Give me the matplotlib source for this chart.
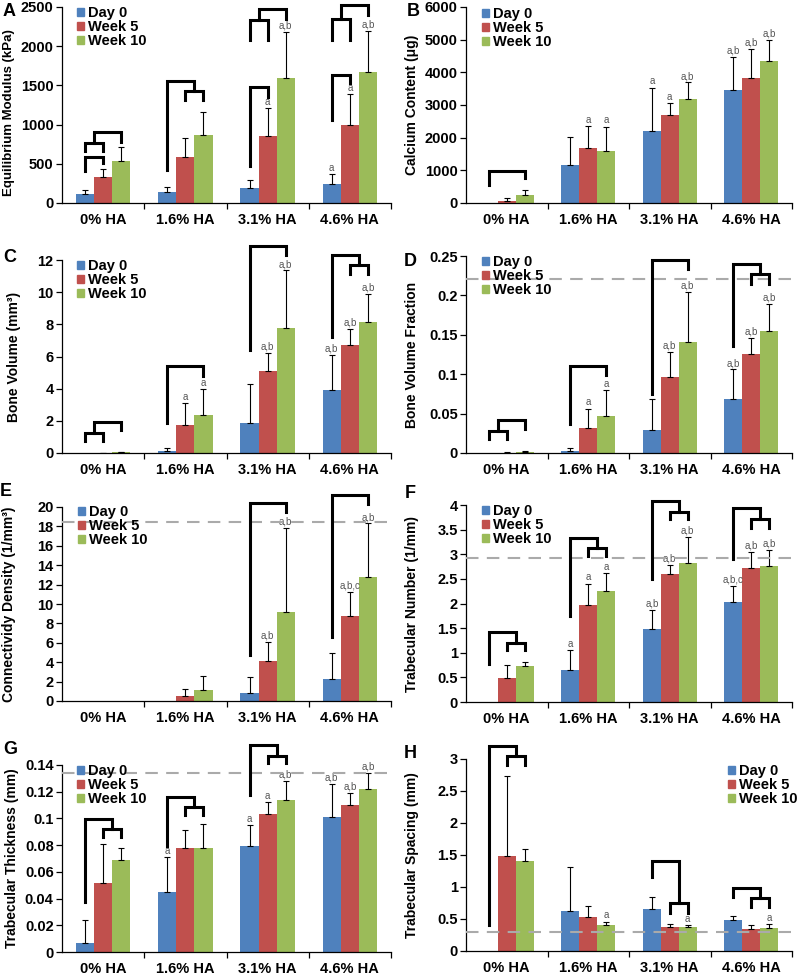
import numpy as np
import matplotlib
matplotlib.use('Agg')
import matplotlib.pyplot as plt
from matplotlib.patches import Patch

plt.rcParams['font.family'] = ['Liberation Sans', 'DejaVu Sans']

groups = ['0% HA', '1.6% HA', '3.1% HA', '4.6% HA']
series = ['Day 0', 'Week 5', 'Week 10']
colors = ['#4F81BD', '#C0504D', '#9BBB59']

# ---- data: rows = Day 0, Week 5, Week 10 ; cols = HA groups ----
modulus_mean = [[115, 135, 195, 245], [335, 590, 860, 1000], [530, 865, 1595, 1670]]
modulus_sd = [[50, 75, 95, 120], [105, 240, 350, 385], [180, 300, 585, 530]]
modulus_ann = [['', '', '', 'a'], ['', '', 'a', 'a'], ['', '', 'a,b', 'a,b']]

calcium_mean = [[0, 1170, 2200, 3460], [75, 1690, 2700, 3830], [230, 1580, 3180, 4350]]
calcium_sd = [[0, 860, 1330, 1010], [85, 660, 360, 890], [170, 760, 510, 650]]
calcium_ann = [['', '', 'a', 'a,b'], ['', 'a', 'a', 'a,b'], ['', 'a', 'a,b', 'a,b']]

bv_mean = [[0, 0.1, 1.85, 3.9], [0.02, 1.75, 5.12, 6.7], [0.04, 2.38, 7.8, 8.12]]
bv_sd = [[0, 0.2, 2.45, 2.2], [0.01, 1.35, 1.1, 1.0], [0.02, 1.57, 3.55, 1.78]]
bv_ann = [['', '', '', 'a,b'], ['', 'a', 'a,b', 'a,b'], ['', 'a', 'a,b', 'a,b']]

bvf_mean = [[0, 0.003, 0.029, 0.068], [0.0005, 0.032, 0.097, 0.126], [0.001, 0.047, 0.141, 0.155]]
bvf_sd = [[0, 0.003, 0.039, 0.038], [0.0005, 0.024, 0.031, 0.020], [0.001, 0.033, 0.063, 0.034]]
bvf_ann = [['', '', '', 'a,b'], ['', 'a', 'a,b', 'a,b'], ['', 'a', 'a,b', 'a,b']]
bvf_ref = 0.221

conn_mean = [[0, 0, 0.78, 2.3], [0, 0.5, 4.15, 8.75], [0, 1.15, 9.2, 12.8]]
conn_sd = [[0, 0, 1.72, 2.6], [0, 0.7, 1.9, 2.45], [0, 1.45, 8.6, 5.5]]
conn_ann = [['', '', '', ''], ['', '', 'a,b', 'a,b,c'], ['', '', 'a,b', 'a,b']]
conn_ref = 18.5

tbn_mean = [[0, 0.65, 1.49, 2.03], [0.48, 1.97, 2.6, 2.73], [0.73, 2.25, 2.83, 2.77]]
tbn_sd = [[0, 0.4, 0.38, 0.33], [0.28, 0.43, 0.18, 0.31], [0.09, 0.36, 0.52, 0.32]]
tbn_ann = [['', 'a', 'a,b', 'a,b,c'], ['', 'a', 'a,b', 'a,b'], ['', 'a', 'a,b', 'a,b']]
tbn_ref = 2.93

tbth_mean = [[0.007, 0.045, 0.079, 0.101], [0.052, 0.078, 0.103, 0.110], [0.069, 0.078, 0.114, 0.122]]
tbth_sd = [[0.017, 0.026, 0.016, 0.025], [0.029, 0.013, 0.009, 0.009], [0.009, 0.018, 0.014, 0.012]]
tbth_ann = [['', 'a', 'a', 'a,b'], ['', '', 'a', 'a,b'], ['', '', 'a,b', 'a,b']]
tbth_ref = 0.134

tbsp_mean = [[0, 0.62, 0.65, 0.48], [1.49, 0.53, 0.38, 0.35], [1.41, 0.41, 0.37, 0.36]]
tbsp_sd = [[0, 0.69, 0.19, 0.06], [1.24, 0.17, 0.04, 0.06], [0.19, 0.05, 0.03, 0.06]]
tbsp_ann = [['', '', '', ''], ['', '', '', ''], ['', 'a', 'a', 'a']]
tbsp_ref = 0.3

# significance brackets: (group, left slot, right slot, top, left end, right end)
# slot 0/1/2 = bar, 0.5/1.5 = between bars
modulus_br = [(0, 0, 1, 593, 403, 508), (0, 0, 1, 771, 657, 657), (0, 0.5, 2, 911, 771, 784),
              (1, 1, 2, 1432, 1314, 1314), (1, 0, 1.5, 1555, 424, 1432),
              (2, 0, 1, 1483, 466, 1356), (2, 0, 1, 2339, 2085, 2085), (2, 0.5, 2, 2479, 2339, 2352),
              (3, 0, 1, 1631, 1059, 1525), (3, 0, 1, 2352, 2085, 2085), (3, 0.5, 2, 2521, 2352, 2394)]
calcium_br = [(0, 0, 2, 970, 560, 765)]
bv_br = [(0, 0, 1, 1.25, 0.73, 0.73), (0, 0.5, 2, 1.9, 1.25, 1.45), (1, 0, 2, 5.4, 1.87, 4.77),
         (2, 0, 2, 12.86, 6.4, 12.34), (3, 1, 2, 11.72, 11.1, 11.1), (3, 0, 1.5, 12.28, 7.2, 11.72)]
bvf_br = [(0, 0, 1, 0.028, 0.0174, 0.0174), (0, 0.5, 2, 0.0415, 0.028, 0.031), (1, 0, 2, 0.110, 0.037, 0.0987),
          (2, 0, 2, 0.245, 0.0746, 0.233), (3, 1, 2, 0.2267, 0.215, 0.215), (3, 0, 1.5, 0.2394, 0.136, 0.2267)]
conn_br = [(2, 0, 2, 20.4, 4.73, 19.5), (3, 0, 2, 21.2, 6.6, 20.3)]
tbn_br = [(0, 1, 2, 1.207, 1.05, 1.05), (0, 0, 1.5, 1.424, 0.78, 1.207),
          (1, 1, 2, 3.12, 2.96, 2.96), (1, 0, 1.5, 3.34, 1.74, 3.12),
          (2, 1, 2, 3.86, 3.71, 3.71), (2, 0, 1.5, 4.09, 2.49, 3.86),
          (3, 1, 2, 3.71, 3.54, 3.54), (3, 0, 1.5, 3.93, 2.9, 3.71)]
tbth_br = [(0, 1, 2, 0.092, 0.0863, 0.0863), (0, 0, 1.5, 0.0993, 0.0375, 0.092),
           (1, 1, 2, 0.1088, 0.1025, 0.1025), (1, 0, 1.5, 0.1163, 0.079, 0.1088),
           (2, 1, 2, 0.1467, 0.1415, 0.1415), (2, 0, 1.5, 0.155, 0.1175, 0.1467)]
tbsp_br = [(0, 1, 2, 3.04, 2.9, 2.9), (0, 0, 1.5, 3.21, 0.41, 3.04),
           (2, 1, 2, 0.746, 0.6, 0.6), (2, 0, 1.5, 1.40, 1.16, 0.746),
           (3, 1, 2, 0.824, 0.69, 0.69), (3, 0, 1.5, 0.98, 0.85, 0.824)]

W = 0.22
FW, FH = 800, 976
fig = plt.figure(figsize=(FW / 100, FH / 100), dpi=100)


def px_rect(l, t, r, b):
    return [l / FW, 1 - b / FH, (r - l) / FW, (b - t) / FH]


def panel(box, letter, letter_xy, mean, sd, ann, brackets, ymax, ystep, ylabel, lab_px,
          leg_xy, ref=None, lab_y=0.5, lab_size=10):
    ax = fig.add_axes(px_rect(*box))
    x = np.arange(len(groups))
    for i in range(3):
        xs = x + (i - 1) * W
        m = np.array(mean[i], dtype=float)
        e = np.array(sd[i], dtype=float)
        ax.bar(xs, m, W, color=colors[i], zorder=2)
        has = e > 0
        ax.errorbar(xs[has], m[has], yerr=[np.zeros(has.sum()), e[has]], fmt='none',
                    ecolor='black', elinewidth=0.8, capsize=2, capthick=0.8, zorder=3)
        for g in range(len(groups)):
            if ann[i][g]:
                ax.annotate(ann[i][g], (xs[g], m[g] + e[g]), xytext=(0, 1), textcoords='offset points',
                            ha='center', va='bottom', fontsize=7, color='#555555')
    if ref is not None:
        ax.axhline(ref, color='#aaaaaa', lw=1.5, dashes=(6, 4), zorder=4)
    for g, sl, sr, top, yl, yr in brackets:
        xl = g + (sl - 1) * W
        xr = g + (sr - 1) * W
        ax.plot([xl, xl, xr, xr], [yl, top, top, yr], color='black', lw=2.2,
                solid_joinstyle='miter', clip_on=False, zorder=5)

    ax.set_xlim(-0.5, len(groups) - 0.5)
    ax.set_ylim(0, ymax)
    ticks = np.arange(0, ymax + ystep / 2, ystep)
    ax.set_yticks(ticks)
    ax.set_yticklabels(['{:g}'.format(round(v, 4)) for v in ticks])
    ax.set_xticks(x)
    ax.set_xticklabels(groups)
    ax.set_xticks(x + 0.5, minor=True)
    ax.tick_params(axis='x', which='major', length=0, pad=7, labelsize=10.5)
    ax.tick_params(axis='x', which='minor', length=4, width=0.9, direction='out')
    ax.tick_params(axis='y', length=4, width=0.9, direction='out', pad=2, labelsize=10.5)
    for lab in ax.get_xticklabels() + ax.get_yticklabels():
        lab.set_fontweight('bold')
    for s in ['top', 'right']:
        ax.spines[s].set_visible(False)
    for s in ['left', 'bottom']:
        ax.spines[s].set_linewidth(0.9)
    ax.set_ylabel(ylabel, fontsize=lab_size, fontweight='bold')
    # label anchor = right edge of the rotated text, in figure pixels
    ax.yaxis.set_label_coords((lab_px - box[0]) / (box[2] - box[0]), lab_y)

    handles = [Patch(color=c) for c in colors]
    ax.legend(handles, series, loc='upper left', frameon=False,
              bbox_to_anchor=(leg_xy[0] / FW, 1 - leg_xy[1] / FH), bbox_transform=fig.transFigure,
              prop={'weight': 'bold', 'size': 10.5}, handlelength=0.5, handleheight=0.5,
              handletextpad=0.25, labelspacing=0.0, borderpad=0, borderaxespad=0)
    fig.text(letter_xy[0] / FW, 1 - letter_xy[1] / FH, letter, ha='center', va='center',
             fontsize=13, fontweight='bold')
    return ax


panel((62, 7, 391, 203), 'A', (9, 12), modulus_mean, modulus_sd, modulus_ann, modulus_br,
      2500, 500, 'Equilibrium Modulus (kPa)', 15, (77, 6), lab_y=0.46, lab_size=9.5)
panel((466, 7, 792, 203), 'B', (413, 11), calcium_mean, calcium_sd, calcium_ann, calcium_br,
      6000, 1000, 'Calcium Content (\u03bcg)', 419, (482, 7))
panel((62, 260, 391, 453), 'C', (10, 257), bv_mean, bv_sd, bv_ann, bv_br,
      12, 2, 'Bone Volume (mm\u00b3)', 21, (77, 259))
panel((466, 256, 792, 453), 'D', (410, 262), bvf_mean, bvf_sd, bvf_ann, bvf_br,
      0.25, 0.05, 'Bone Volume Fraction', 419, (482, 255), ref=bvf_ref)
panel((62, 507, 391, 701), 'E', (6, 492), conn_mean, conn_sd, conn_ann, conn_br,
      20, 2, 'Connectividy Density (1/mm\u00b3)', 16, (78, 505), ref=conn_ref)
panel((466, 505, 792, 702), 'F', (410, 493), tbn_mean, tbn_sd, tbn_ann, tbn_br,
      4, 0.5, 'Trabecular Number (1/mm)', 419, (482, 504), ref=tbn_ref)
panel((62, 765, 391, 952), 'G', (10, 750), tbth_mean, tbth_sd, tbth_ann, tbth_br,
      0.14, 0.02, 'Trabecular Thickness (mm)', 19, (77, 764), ref=tbth_ref)
panel((466, 759, 792, 951), 'H', (410, 753), tbsp_mean, tbsp_sd, tbsp_ann, tbsp_br,
      3, 0.5, 'Trabecular Spacing (mm)', 419, (728, 764), ref=tbsp_ref)

fig.savefig('out.png', dpi=100)
